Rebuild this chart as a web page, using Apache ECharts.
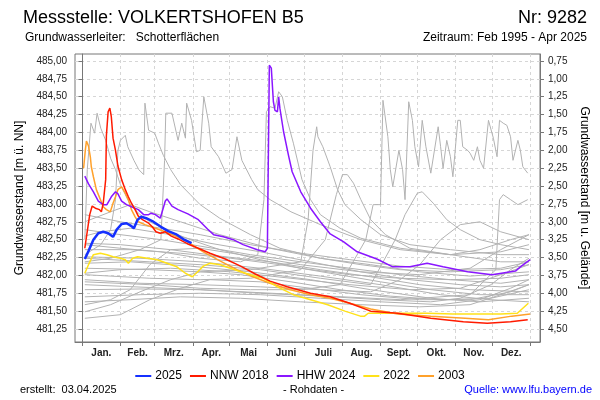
<!DOCTYPE html>
<html><head><meta charset="utf-8">
<script src="https://cdn.jsdelivr.net/npm/echarts@6/dist/echarts.min.js"></script>
<style>html,body{margin:0;padding:0;background:#fff}#c{width:600px;height:400px}</style>
</head><body><div id="c"></div>
<script>
// ---- axis / tick definitions (day of year, m ü. NN) ----
const monthTicks = [0,31,59,90,120,151,181,212,243,273,304,334,365];
const monthLabels = ['Jan.','Feb.','Mrz.','Apr.','Mai','Juni','Juli','Aug.','Sept.','Okt.','Nov.','Dez.'];
const levelTicks = [481.25,481.5,481.75,482.0,482.25,482.5,482.75,483.0,483.25,483.5,483.75,484.0,484.25,484.5,484.75,485.0];
const depthTicks = [0.75,1.0,1.25,1.5,1.75,2.0,2.25,2.5,2.75,3.0,3.25,3.5,3.75,4.0,4.25,4.5];
const groundLevel = 485.75;

// ---- highlighted years: [day, level] ----
const y2025 = [[2,482.23],[5,482.34],[9,482.50],[13,482.59],[17,482.61],[21,482.59],[25,482.54],[28,482.64],[32,482.72],[36,482.73],[40,482.69],[42,482.66],[45,482.78],[48,482.82],[52,482.80],[57,482.76],[64,482.68],[70,482.62],[77,482.57],[83,482.50],[89,482.45]];
const nnw2018 = [[2,482.38],[3,482.40],[6,482.85],[8,482.97],[10.6,482.94],[14,482.92],[15.5,482.89],[17,483.01],[19,483.34],[19.6,483.96],[21,484.29],[22.4,484.34],[23.6,484.22],[25,483.92],[27,483.75],[29,483.53],[32,483.34],[35,483.20],[37.5,483.10],[40,483.01],[43,482.92],[45.6,482.83],[49,482.78],[54,482.73],[57,482.68],[60,482.61],[63.5,482.59],[67.6,482.61],[72.5,482.55],[78,482.51],[86,482.44],[94.5,482.38],[104,482.31],[116.5,482.23],[129,482.13],[141,482.02],[153,481.92],[167,481.84],[186,481.75],[202,481.70],[218,481.61],[235,481.50],[257,481.47],[284,481.40],[310.5,481.35],[330,481.33],[349,481.35],[363,481.38]];
const hhw2024 = [[2,483.39],[5,483.28],[9,483.17],[13,483.04],[17,482.99],[20,482.99],[23.6,483.10],[27,483.17],[29,483.14],[32,483.04],[36,482.99],[40,482.96],[45.6,482.92],[50,482.85],[54,482.85],[56,482.87],[59.5,482.85],[63.5,482.80],[67.6,483.04],[69,483.07],[73,482.97],[78,482.92],[86,482.86],[94.5,482.78],[102,482.65],[107,482.57],[115,482.54],[123,482.50],[131,482.43],[142.6,482.36],[149,482.33],[150.8,482.38],[151.6,483.68],[152.4,484.94],[154,484.90],[155.7,484.43],[157,484.31],[159,484.29],[160,484.50],[161,484.34],[164,484.01],[168,483.68],[171,483.45],[178,483.17],[186,482.94],[194,482.75],[202,482.58],[213,482.47],[224,482.33],[240,482.23],[253,482.12],[267,482.12],[281,482.17],[294,482.12],[314,482.05],[334,482.01],[353,482.06],[357,482.12],[365,482.22]];
const y2022 = [[2,482.03],[5,482.15],[9,482.29],[14.7,482.31],[20,482.29],[25,482.26],[31,482.24],[35,482.22],[37.5,482.17],[41,482.24],[45,482.26],[53,482.24],[61,482.22],[69,482.17],[77,482.12],[84,482.03],[89.6,481.98],[94,482.05],[98.6,482.13],[104,482.17],[112.5,482.15],[120.6,482.10],[129,482.05],[137,482.01],[147.5,481.96],[159,481.84],[172,481.73],[186,481.66],[200,481.59],[214,481.50],[226.6,481.43],[230,481.43],[233,481.47],[243,481.47],[259,481.47],[281,481.47],[302,481.46],[322,481.46],[341,481.46],[354.5,481.47],[359,481.54],[363.5,481.61]];
const y2003 = [[1,483.50],[2.4,483.75],[3.3,483.88],[5,483.81],[6.5,483.66],[7.3,483.52],[9,483.38],[11.4,483.20],[14.7,483.06],[17,482.96],[19.6,482.92],[22.8,482.89],[25,483.01],[27,483.10],[29,483.20],[32,483.24],[35,483.15],[37.5,483.06],[40,482.92],[43,482.82],[45.6,482.75],[51,482.71],[59.5,482.66],[67.6,482.61],[76,482.55],[85.6,482.47],[98.6,482.33],[112.5,482.20],[126,482.08],[139,481.98],[153,481.89],[169.5,481.80],[186,481.73],[202,481.68],[218,481.61],[235,481.53],[257,481.46],[284,481.43],[312,481.40],[331,481.38],[350,481.43],[365,481.46]];

// ---- other years of the record (grey) ----
const otherYears = [
 [[2,482.50],[4,483.48],[7,484.13],[10,483.99],[12,484.27],[15,484.06],[19,483.89],[23,483.64],[27,483.48],[31,483.27],[35,483.13],[39,482.99],[47,482.85],[55,482.75],[72,482.61],[88,482.50],[112,482.36],[145,482.22],[178,482.10],[218,482.01],[259,481.96],[300,481.94],[341,481.96],[364,482.01]],
 [[2,482.29],[15,482.43],[23,482.64],[27,483.06],[29,483.75],[31,483.89],[35,483.96],[37,483.80],[42,483.61],[46,483.48],[50,483.41],[51,484.41],[54,484.03],[59,483.99],[62,483.85],[66,483.68],[72,483.48],[80,483.27],[88,483.13],[96,482.99],[112,482.80],[137,482.57],[161,482.38],[194,482.24],[227,482.15],[259,482.08],[300,482.05],[341,482.08],[364,482.15]],
 [[2,482.19],[23,482.24],[47,482.36],[64,482.50],[67,483.61],[68,484.27],[73,484.27],[78,483.89],[81,484.13],[84,483.92],[85,484.41],[89,484.17],[93,483.73],[96,483.75],[99,484.50],[103,484.13],[105,483.80],[111,483.66],[117,483.43],[122,483.48],[126,483.94],[130,483.61],[138,483.34],[143,483.20],[153,483.06],[170,482.89],[194,482.71],[227,482.50],[259,482.36],[300,482.29],[341,482.33],[364,482.43]],
 [[2,482.43],[31,482.38],[64,482.33],[96,482.24],[129,482.19],[143,482.29],[148,483.06],[150,484.29],[153,484.36],[157,484.34],[160,484.57],[163,484.50],[167,484.17],[172,483.85],[179,483.34],[186,483.06],[194,482.85],[210,482.66],[227,482.52],[259,482.38],[300,482.29],[341,482.19],[364,482.19]],
 [[2,482.10],[55,482.08],[96,482.05],[137,482.08],[178,482.19],[184,482.78],[188,483.75],[191,484.08],[192,483.94],[196,483.80],[202,483.52],[208,483.20],[214,482.99],[227,482.78],[243,482.57],[267,482.43],[300,482.36],[341,482.29],[364,482.29]],
 [[2,482.01],[55,481.96],[96,481.94],[137,481.96],[178,482.08],[198,482.50],[207,483.13],[212,483.41],[216,483.41],[221,483.29],[227,483.06],[235,482.78],[247,482.57],[267,482.38],[300,482.29],[324,482.36],[349,482.50],[364,482.57]],
 [[2,481.91],[55,481.87],[96,481.82],[137,481.80],[178,481.80],[210,481.87],[231,482.50],[237,482.99],[243,482.99],[245,484.45],[249,483.94],[251,483.48],[253,483.24],[258,483.75],[261,483.48],[263,483.06],[266,484.43],[269,484.17],[271,483.80],[274,483.52],[277,484.17],[280,483.80],[284,483.43],[290,484.08],[292,483.80],[294,483.50],[297,483.89],[300,483.66],[302,483.38],[306,484.17],[308,484.17],[310,483.80],[314,483.75],[316,483.71],[319,483.61],[322,483.80],[324,483.61],[327,483.50],[331,484.17],[335,483.92],[338,483.66],[340,484.17],[343,484.13],[346,484.10],[349,483.94],[351,483.61],[355,483.89],[357,483.75],[359,483.52],[363,483.43]],
 [[2,481.87],[96,481.80],[178,481.73],[259,481.66],[316,481.73],[337,482.08],[340,483.06],[343,483.13],[349,483.06],[355,482.99],[363,483.06]],
 [[2,482.24],[55,482.19],[96,482.15],[145,482.08],[194,481.96],[235,481.87],[255,482.50],[263,482.85],[273,483.15],[277,483.17],[286,483.01],[297,482.78],[308,482.64],[324,482.50],[341,482.43],[364,482.36]],
 [[2,482.85],[31,482.75],[64,482.66],[96,482.57],[137,482.43],[178,482.31],[218,482.22],[259,482.13],[300,482.08],[341,482.10],[364,482.19]],
 [[2,482.75],[23,482.89],[39,482.99],[55,482.89],[80,482.75],[112,482.57],[153,482.38],[194,482.24],[235,482.15],[275,482.05],[316,481.99],[364,482.05]],
 [[2,482.64],[31,482.57],[64,482.50],[96,482.41],[137,482.29],[178,482.19],[218,482.10],[259,482.01],[300,481.94],[341,481.89],[364,481.94]],
 [[2,482.55],[15,482.61],[39,482.66],[72,482.57],[104,482.45],[145,482.33],[186,482.19],[227,482.05],[267,481.94],[308,481.87],[341,481.84],[364,481.87]],
 [[2,482.45],[31,482.43],[72,482.36],[112,482.27],[153,482.19],[194,482.08],[235,481.98],[275,481.87],[316,481.80],[364,481.77]],
 [[2,482.36],[39,482.36],[80,482.31],[121,482.24],[161,482.15],[202,482.03],[243,481.91],[284,481.80],[324,481.73],[364,481.73]],
 [[2,482.26],[47,482.24],[96,482.19],[145,482.10],[194,481.99],[243,481.87],[292,481.73],[333,481.66],[364,481.63]],
 [[2,482.17],[39,482.19],[88,482.13],[137,482.05],[186,481.94],[235,481.80],[284,481.68],[324,481.63],[364,481.68]],
 [[2,482.03],[31,482.08],[72,482.10],[121,482.05],[170,481.96],[218,481.87],[267,481.80],[308,481.82],[341,482.01],[364,482.15]],
 [[2,481.80],[47,481.81],[96,481.80],[145,481.75],[194,481.71],[243,481.66],[284,481.63],[308,481.68],[333,481.87],[349,482.08],[364,482.24]],
 [[2,481.70],[47,481.73],[96,481.75],[145,481.73],[194,481.68],[243,481.63],[292,481.59],[324,481.66],[349,481.82],[364,481.94]],
 [[2,481.63],[39,481.66],[80,481.70],[129,481.68],[178,481.63],[227,481.59],[275,481.56],[316,481.59],[341,481.73],[364,481.87]],
 [[2,481.49],[23,481.59],[47,481.77],[72,481.94],[96,482.05],[129,482.01],[170,481.91],[210,481.80],[251,481.71],[292,481.66],[333,481.68],[364,481.80]],
 [[2,481.40],[31,481.45],[55,481.66],[80,481.82],[104,481.94],[145,481.91],[186,481.82],[227,481.73],[275,481.66],[316,481.66],[349,481.77],[364,481.87]],
 [[2,481.59],[23,481.66],[39,481.80],[55,482.15],[72,482.36],[96,482.38],[129,482.29],[178,482.15],[227,482.05],[275,482.01],[316,482.10],[341,482.36],[364,482.57]],
 [[2,481.94],[47,481.89],[96,481.87],[145,481.84],[194,481.80],[235,481.77],[259,481.94],[275,482.15],[292,482.50],[308,482.71],[324,482.75],[341,482.61],[364,482.50]]
];

const monthMids = monthTicks.slice(0,12).map((d,i)=> (d+monthTicks[i+1])/2);
const FONT = '"Liberation Sans", Arial, sans-serif';
const comma = v => v.toFixed(2).replace('.', ',');

const chart = echarts.init(document.getElementById('c'), null, {renderer:'canvas'});

const series = [];
otherYears.forEach((d,i)=>{
  series.push({type:'line', name:'other'+i, data:d, symbol:'none', silent:true,
    lineStyle:{color:'#b2b2b2', width:1}, itemStyle:{color:'#b2b2b2'}, z:2});
});
const hl = [
  {name:'2003', data:y2003, color:'#ffa12b', w:1.5},
  {name:'2022', data:y2022, color:'#ffe21a', w:1.5},
  {name:'HHW 2024', data:hhw2024, color:'#8a16ff', w:1.5},
  {name:'NNW 2018', data:nnw2018, color:'#ff1a00', w:1.5},
  {name:'2025', data:y2025, color:'#1530ff', w:2.5}
];
hl.forEach((s,i)=>{
  series.push({type:'line', name:s.name, data:s.data, symbol:'none', silent:true,
    lineStyle:{color:s.color, width:s.w}, itemStyle:{color:s.color}, z:3+i});
});

const option = {
  animation:false,
  textStyle:{fontFamily:FONT},
  grid:{left:75, right:60, top:54, bottom:58, show:true, borderColor:'#777', borderWidth:1, backgroundColor:'transparent'},
  title:[
    {text:'Messstelle: VOLKERTSHOFEN B5', left:18, top:4, textStyle:{fontFamily:FONT, fontSize:18, fontWeight:'normal', color:'#000'}},
    {text:'Nr: 9282', right:8, top:4, textStyle:{fontFamily:FONT, fontSize:18, fontWeight:'normal', color:'#000'}},
    {text:'Grundwasserleiter:   Schotterflächen', left:20, top:27, textStyle:{fontFamily:FONT, fontSize:12, fontWeight:'normal', color:'#000'}},
    {text:'Zeitraum: Feb 1995 - Apr 2025', right:8, top:27, textStyle:{fontFamily:FONT, fontSize:12, fontWeight:'normal', color:'#000'}}
  ],
  legend:{
    data:['2025','NNW 2018','HHW 2024','2022','2003'],
    icon:'rect', left:'center', top:365, itemWidth:16, itemHeight:2, itemGap:8,
    textStyle:{fontFamily:FONT, fontSize:12, color:'#000', padding:[0,0,0,-1]}
  },
  xAxis:{
    type:'value', min:-6, max:373,
    axisLine:{show:true, lineStyle:{color:'#777', width:1}},
    axisTick:{show:true, customValues:monthTicks, length:4, lineStyle:{color:'#777'}},
    axisLabel:{customValues:monthMids, margin:6, fontSize:10, fontWeight:'bold', color:'#222', fontFamily:FONT,
      formatter:v=>{ let k=0,b=1e9; monthMids.forEach((m,i)=>{ if(Math.abs(m-v)<b){b=Math.abs(m-v);k=i;} }); return monthLabels[k]; }},
    splitLine:{show:true, lineStyle:{type:[3,3], color:'#d6d6d6', width:1}}
  },
  yAxis:[
    {type:'value', min:481.068, max:485.098, position:'left',
     name:'Grundwasserstand [m ü. NN]', nameLocation:'middle', nameGap:49,
     nameTextStyle:{fontFamily:FONT, fontSize:12, color:'#000'},
     axisLine:{show:true, lineStyle:{color:'#777'}},
     axisTick:{show:true, customValues:levelTicks, length:4, lineStyle:{color:'#777'}},
     axisLabel:{customValues:levelTicks, formatter:comma, fontSize:10, color:'#222', margin:8, fontFamily:FONT},
     splitLine:{show:true, lineStyle:{type:[3,3], color:'#d6d6d6', width:1}}
    },
    {type:'value', min:groundLevel-485.098, max:groundLevel-481.068, inverse:true, position:'right',
     name:'Grundwasserstand [m u. Gelände]', nameLocation:'middle', nameGap:34, nameRotate:-90,
     nameTextStyle:{fontFamily:FONT, fontSize:12, color:'#000'},
     axisLine:{show:true, lineStyle:{color:'#777'}},
     axisTick:{show:true, customValues:depthTicks, length:4, lineStyle:{color:'#777'}},
     axisLabel:{customValues:depthTicks, formatter:comma, fontSize:10, color:'#222', margin:8, fontFamily:FONT},
     splitLine:{show:false}
    }
  ],
  graphic:[
    {type:'text', left:20, top:384, style:{text:'erstellt:  03.04.2025', font:'11px '+FONT, fill:'#000'}},
    {type:'text', left:283, top:384, style:{text:'- Rohdaten -', font:'11px '+FONT, fill:'#000'}},
    {type:'text', right:8, top:384, style:{text:'Quelle: www.lfu.bayern.de', font:'11px '+FONT, fill:'#0000ff'}}
  ],
  series:series
};
chart.setOption(option);
</script>
</body></html>
